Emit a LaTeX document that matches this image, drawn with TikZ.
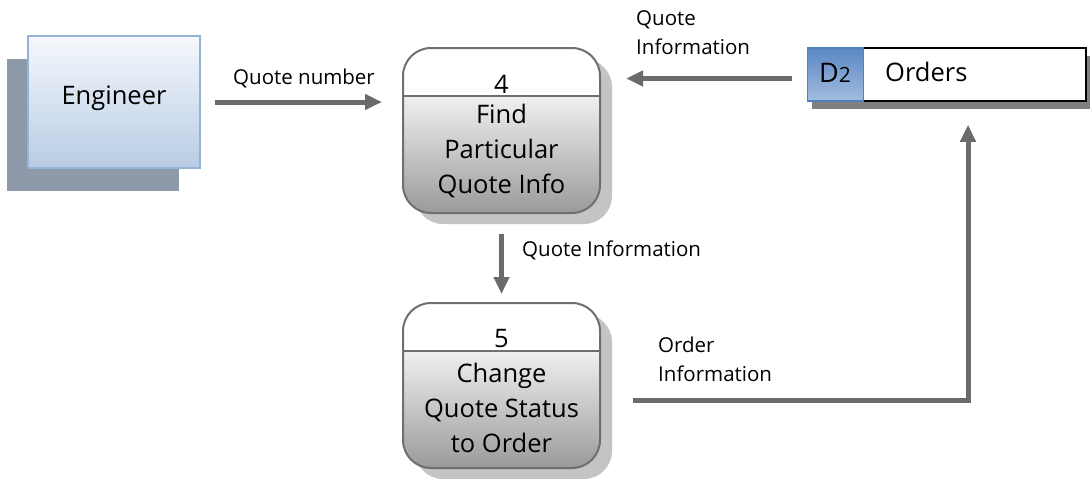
\documentclass[tikz,border=0pt]{standalone}
\usepackage{fontspec}
\setmainfont{Open Sans}
\usetikzlibrary{arrows.meta,shadows,calc}

\definecolor{flow}{HTML}{6B6B6B}
\definecolor{enttop}{HTML}{F5F8FC}
\definecolor{entbot}{HTML}{B8CCE4}
\definecolor{entedge}{HTML}{95B3D7}
\definecolor{entshadow}{HTML}{8E9AA9}
\definecolor{procedge}{HTML}{6F6F6F}
\definecolor{proctop}{HTML}{F0F0F0}
\definecolor{procbot}{HTML}{9A9A9A}
\definecolor{procshadow}{HTML}{C4C4C4}
\definecolor{celltop}{HTML}{5A87C3}
\definecolor{cellbot}{HTML}{A3BDE0}
\definecolor{celledge}{HTML}{4F81BD}
\definecolor{storeshadow}{HTML}{808080}

\tikzset{
  bigtext/.style={inner sep=0pt, font=\fontsize{25.5}{35}\selectfont},
  lbl/.style={inner sep=0pt, font=\fontsize{20.5}{29}\selectfont},
  entity/.style={draw=entedge, line width=1.5pt, top color=enttop, bottom color=entbot,
    minimum width=172pt, minimum height=132pt, inner sep=0pt,
    drop shadow={shadow xshift=-21pt, shadow yshift=-23pt, fill=entshadow, opacity=1}},
  proc/.style={draw=procedge, line width=2pt, rounded corners=28pt,
    minimum width=197pt, minimum height=165pt, inner sep=0pt,
    drop shadow={shadow xshift=12pt, shadow yshift=-11pt, fill=procshadow, opacity=1},
    path picture={
      \fill[white, sharp corners] (path picture bounding box.north west) rectangle ([yshift=-48pt]path picture bounding box.north east);
      \shade[top color=proctop, bottom color=procbot, sharp corners]
        (path picture bounding box.south west) rectangle ([yshift=-48pt]path picture bounding box.north east);
      \draw[procedge, line width=2pt, sharp corners] ([yshift=-48pt]path picture bounding box.north west)
        -- ([yshift=-48pt]path picture bounding box.north east);
    }},
  store/.style={draw=black, line width=1.5pt, fill=white,
    minimum width=278pt, minimum height=53pt, inner sep=0pt,
    drop shadow={shadow xshift=4pt, shadow yshift=-8pt, fill=storeshadow, opacity=1}},
  storecell/.style={draw=celledge, line width=1.2pt, top color=celltop, bottom color=cellbot,
    minimum width=56pt, minimum height=53pt, inner sep=0pt},
  flowline/.style={draw=flow, line width=5pt, -{Triangle[length=17pt,width=15pt]}}
}

\begin{document}
\begin{tikzpicture}[x=1pt,y=-1pt]
\useasboundingbox (0,0) rectangle (1091,480);

% external entity
\node[entity] (eng) at (114,102) {};
\node[bigtext] (engt) at (114,98) {Engineer};

% processes
\node[proc] (p4) at (501.5,130.5) {};
\node[bigtext, anchor=base] (p4n) at (501.5,93) {4};
\node[bigtext, anchor=north, align=center] (p4t) at (501.5,104) {Find\\Particular\\Quote Info};

\node[proc] (p5) at (501.5,385.5) {};
\node[bigtext, anchor=base] (p5n) at (501.5,347) {5};
\node[bigtext, anchor=north, align=center] (p5t) at (501.5,363) {Change\\Quote Status\\to Order};

% data store
\node[store] (st) at (947,74.5) {};
\node[storecell, anchor=west] (d2) at (st.west) {};
\node[bigtext, anchor=base] (d2t) at (835,82) {\fontsize{27}{27}\selectfont D{\fontsize{21}{21}\selectfont 2}};
\node[bigtext, anchor=base west] (ordt) at (885,81) {Orders};

% data flows
\draw[flowline, shorten <=14pt, shorten >=20pt] (eng.east) -- (eng.east -| p4.west);
\draw[flowline, shorten <=15pt, shorten >=25pt] ([yshift=-4pt]st.west) -- ([yshift=-4pt]st.west -| p4.east);
\draw[flowline, shorten <=20pt, shorten >=8pt] (p4.south) -- (p5.north);
\draw[flowline, shorten <=32pt, shorten >=23pt] ([yshift=-14.5pt]p5.east) -| ([xshift=21pt]st.south);

% flow labels
\node[lbl, anchor=base west] (lqn) at (233,84) {Quote number};
\node[lbl, anchor=north west, align=left] (lqi) at (636,10.5) {Quote\\Information};
\node[lbl, anchor=base west] (lqm) at (522,256) {Quote Information};
\node[lbl, anchor=north west, align=left] (loi) at (658,336.5) {Order\\Information};
\end{tikzpicture}
\end{document}
